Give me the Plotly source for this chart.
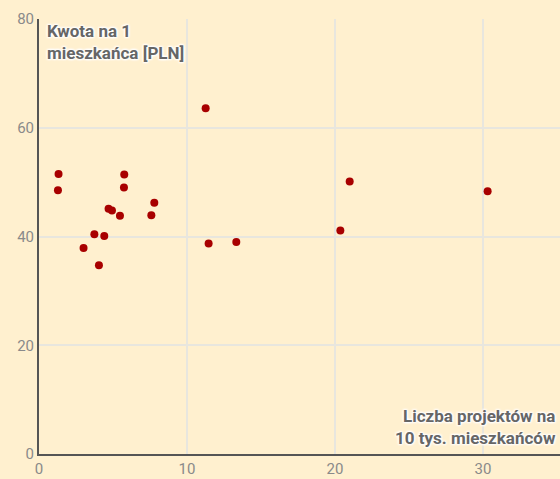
import plotly.graph_objects as go

projects_per_10k = [1.32, 1.28, 3.01, 3.74, 4.05, 4.41, 4.70, 4.93, 5.47, 5.76, 5.74,
                    7.59, 7.79, 11.26, 11.46, 13.33, 20.36, 20.99, 30.31]
amount_per_resident = [51.5, 48.5, 37.9, 40.4, 34.7, 40.1, 45.1, 44.8, 43.8, 51.4, 49.0,
                       43.9, 46.2, 63.6, 38.7, 39.0, 41.1, 50.1, 48.3]
x_ticks = [0, 10, 20, 30]
y_ticks = [0, 20, 40, 60, 80]

bg = "#FFF0CF"
fig = go.Figure()
fig.add_trace(go.Scatter(
    x=projects_per_10k, y=amount_per_resident, mode="markers",
    marker=dict(size=8, color="#A80000", line=dict(width=0)),
    hoverinfo="x+y", showlegend=False,
))

halo = "1px 1px 2px #ffffff, -1px -1px 2px #ffffff, 1px -1px 2px #ffffff, -1px 1px 2px #ffffff"
fig.update_layout(
    width=560, height=479,
    margin=dict(l=39, r=0, t=19, b=25),
    paper_bgcolor=bg, plot_bgcolor=bg,
    font=dict(family="Roboto", size=15, color="#8a8a8a"),
    xaxis=dict(range=[0, 35.2], tickvals=x_ticks, showgrid=True, gridcolor="#E8E6DE",
               gridwidth=2, zeroline=False, showline=True, linecolor="#555555", linewidth=2,
               ticks="", tickfont=dict(size=15, color="#8a8a8a")),
    yaxis=dict(range=[0, 80], tickvals=y_ticks, showgrid=True, gridcolor="#E8E6DE",
               gridwidth=2, zeroline=False, showline=True, linecolor="#555555", linewidth=2,
               ticks="", tickfont=dict(size=15, color="#8a8a8a")),
    annotations=[
        dict(text="Kwota na 1<br>mieszkańca [PLN]", xref="paper", yref="paper",
             x=0.012, y=1.0, xanchor="left", yanchor="top", align="left", showarrow=False,
             font=dict(family="Roboto", size=17, color="#666666", weight="bold", shadow=halo)),
        dict(text="Liczba projektów na<br>10 tys. mieszkańców", xref="paper", yref="paper",
             x=0.997, y=0.01, xanchor="right", yanchor="bottom", align="right", showarrow=False,
             font=dict(family="Roboto", size=17, color="#666666", weight="bold", shadow=halo)),
    ],
)
fig.write_html("out.html", config={"displayModeBar": False},
               post_script="document.body.style.margin='0';document.body.style.overflow='hidden';")
